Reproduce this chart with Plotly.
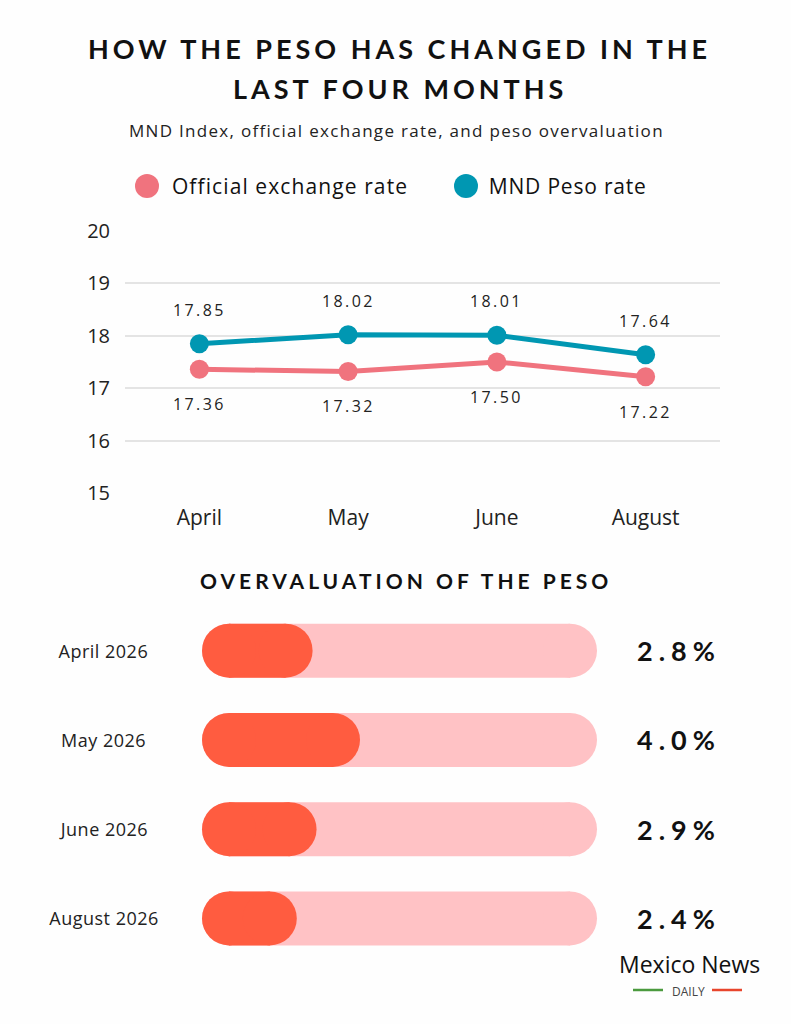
import json
import plotly.graph_objects as go

W, H = 791, 1024

# ---------------- data ----------------
months = ["April", "May", "June", "August"]
official_rate = [17.36, 17.32, 17.50, 17.22]
mnd_rate = [17.85, 18.02, 18.01, 17.64]
y_tick_values = [15, 16, 17, 18, 19, 20]

over_labels = ["April 2026", "May 2026", "June 2026", "August 2026"]
over_values = [2.8, 4.0, 2.9, 2.4]
over_scale_max = 10  # full length of the pale track

# ---------------- style ----------------
RED = "#F0737E"
TEAL = "#0097B2"
PILL_BG = "#FFC2C5"
PILL_FG = "#FF5C40"
INK = "#111111"
TXT = "#222222"
BG = "#FEFEFE"
FONT = "Open Sans"
FONT_B = "Lato"


def fx(p):
    return p / W


def fy(p):
    return 1 - p / H


# layout geometry (pixels)
L_X0, L_X1, L_Y0, L_Y1 = 125, 720, 231, 493
B_X0, B_X1, B_Y0, B_Y1 = 202, 597, 606, 963
PILL_H = 54

fig = go.Figure()

# ---------------- line chart ----------------
fig.add_trace(go.Scatter(
    x=months, y=official_rate, mode="lines+markers",
    line=dict(color=RED, width=5), marker=dict(size=19, color=RED),
    xaxis="x", yaxis="y", showlegend=False, hoverinfo="skip"))
fig.add_trace(go.Scatter(
    x=months, y=mnd_rate, mode="lines+markers",
    line=dict(color=TEAL, width=5), marker=dict(size=19, color=TEAL),
    xaxis="x", yaxis="y", showlegend=False, hoverinfo="skip"))

annotations = []
for m, v in zip(months, mnd_rate):
    annotations.append(dict(x=m, y=v, xref="x", yref="y", text=f"{v:.2f}",
                            showarrow=False, yshift=34, xanchor="center", yanchor="middle",
                            font=dict(family=FONT, size=16, color=TXT)))
for m, v in zip(months, official_rate):
    annotations.append(dict(x=m, y=v, xref="x", yref="y", text=f"{v:.2f}",
                            showarrow=False, yshift=-35, xanchor="center", yanchor="middle",
                            font=dict(family=FONT, size=16, color=TXT)))

# ---------------- overvaluation capsules ----------------
px_per_unit = (B_X1 - B_X0) / over_scale_max
r_data = (PILL_H / 2) / px_per_unit

for lab, v in zip(over_labels, over_values):
    fig.add_trace(go.Scatter(
        x=[r_data, over_scale_max - r_data], y=[lab, lab], mode="lines+markers",
        line=dict(color=PILL_BG, width=PILL_H), marker=dict(size=PILL_H, color=PILL_BG),
        xaxis="x2", yaxis="y2", showlegend=False, hoverinfo="skip", cliponaxis=False))
    fig.add_trace(go.Scatter(
        x=[r_data, v - r_data], y=[lab, lab], mode="lines+markers",
        line=dict(color=PILL_FG, width=PILL_H), marker=dict(size=PILL_H, color=PILL_FG),
        xaxis="x2", yaxis="y2", showlegend=False, hoverinfo="skip", cliponaxis=False))
    annotations.append(dict(x=fx(104), y=lab, xref="paper", yref="y2", text=lab,
                            showarrow=False, xanchor="center", yanchor="middle",
                            font=dict(family=FONT, size=18, color=TXT)))
    annotations.append(dict(x=fx(679), y=lab, xref="paper", yref="y2",
                            text=f"<b>{v:.1f}%</b>", showarrow=False,
                            xanchor="center", yanchor="middle",
                            font=dict(family=FONT_B, size=27, color=INK)))


def label(px, py, text, size, family=FONT, color=INK, xanchor="center"):
    return dict(x=fx(px), y=fy(py), xref="paper", yref="paper", showarrow=False,
                xanchor=xanchor, yanchor="middle", text=text,
                font=dict(family=family, size=size, color=color))


SUBTITLE = "MND Index, official exchange rate, and peso overvaluation"
LEG1 = "Official exchange rate"
LEG2 = "MND Peso rate"

# ---------------- titles / legend / logo ----------------
annotations += [
    label(400, 48, "<b>HOW THE PESO HAS CHANGED IN THE</b>", 27, FONT_B),
    label(400, 88, "<b>LAST FOUR MONTHS</b>", 27, FONT_B),
    label(396, 130, SUBTITLE, 17, FONT, TXT),
    label(406, 580, "<b>OVERVALUATION OF THE PESO</b>", 21, FONT_B),
    label(290, 186, LEG1, 21, FONT, INK),
    label(567, 186, LEG2, 21, FONT, INK),
    label(689, 964, "Mexico News", 23, FONT, INK),
    label(688, 991, "DAILY", 12, FONT, "#444444"),
]

shapes = [
    dict(type="circle", xref="paper", yref="paper", fillcolor=RED, line=dict(width=0),
         x0=fx(135), x1=fx(159), y0=fy(198), y1=fy(174)),
    dict(type="circle", xref="paper", yref="paper", fillcolor=TEAL, line=dict(width=0),
         x0=fx(454), x1=fx(478), y0=fy(198), y1=fy(174)),
    dict(type="line", xref="paper", yref="paper", line=dict(color="#4B9A3E", width=2.5),
         x0=fx(633), x1=fx(663), y0=fy(990), y1=fy(990)),
    dict(type="line", xref="paper", yref="paper", line=dict(color="#E8452C", width=2.5),
         x0=fx(712), x1=fx(742), y0=fy(990), y1=fy(990)),
]

fig.update_layout(
    template="none",
    width=W, height=H, autosize=False,
    margin=dict(l=0, r=0, t=0, b=0, pad=0),
    paper_bgcolor=BG, plot_bgcolor=BG,
    font=dict(family=FONT, color=TXT),
    annotations=annotations, shapes=shapes,
    xaxis=dict(domain=[fx(L_X0), fx(L_X1)], type="category", categoryarray=months,
               range=[-0.5, 3.5], showgrid=False, zeroline=False, showline=False,
               ticks="", tickfont=dict(family=FONT, size=21, color=TXT),
               ticklabelstandoff=10, fixedrange=True, automargin=False),
    yaxis=dict(domain=[fy(L_Y1), fy(L_Y0)], range=[15, 20], tickvals=y_tick_values,
               showgrid=True, gridcolor="#E4E4E4", gridwidth=1.5, zeroline=False,
               showline=False, ticks="", tickfont=dict(family=FONT, size=20, color=TXT),
               ticklabelstandoff=14, fixedrange=True, automargin=False),
    xaxis2=dict(domain=[fx(B_X0), fx(B_X1)], range=[0, over_scale_max], visible=False,
                anchor="y2", fixedrange=True, automargin=False),
    yaxis2=dict(domain=[fy(B_Y1), fy(B_Y0)], type="category", categoryarray=over_labels,
                range=[3.5, -0.5], visible=False, anchor="x2", fixedrange=True,
                automargin=False),
)

letter_spacing = {
    "HOW THE PESO HAS CHANGED IN THE": 4,
    "LAST FOUR MONTHS": 4,
    "OVERVALUATION OF THE PESO": 4,
    SUBTITLE: 1.3,
    LEG1: 1.1,
    LEG2: 0.8,
}
for v in over_values:
    letter_spacing[f"{v:.1f}%"] = 6
for v in official_rate + mnd_rate:
    letter_spacing[f"{v:.2f}"] = 2.4
for lab in over_labels:
    letter_spacing[lab] = 0.5

post_js = """
document.body.style.margin = '0';
document.body.style.background = '%s';
var gd = document.getElementById('{plot_id}');
var LS = %s;
function applyLS(){
  gd.querySelectorAll('text').forEach(function(t){
    var k = t.textContent;
    if (LS[k] !== undefined) { t.style.letterSpacing = LS[k] + 'px'; }
  });
}
applyLS(); setTimeout(applyLS, 30);
if (gd.on) { gd.on('plotly_afterplot', applyLS); }
""" % (BG, json.dumps(letter_spacing))

fig.write_html("out.html", post_script=post_js, config={"displayModeBar": False})
